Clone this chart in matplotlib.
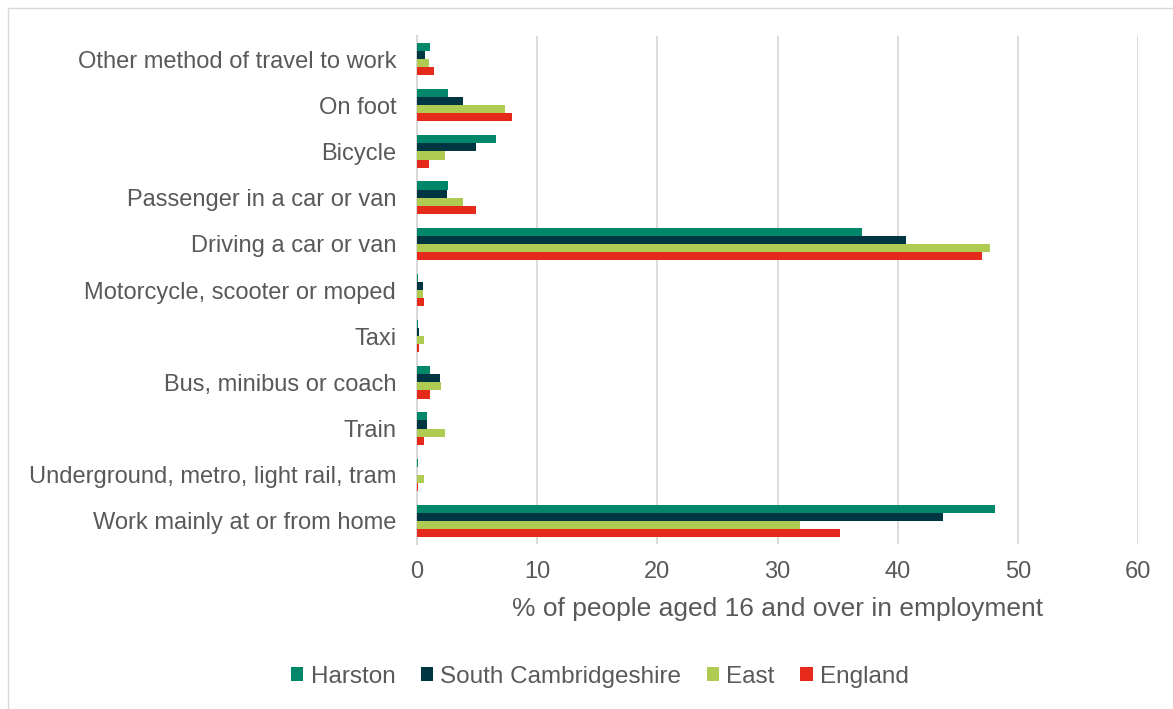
import matplotlib.pyplot as plt
import numpy as np
from matplotlib.patches import Rectangle

plt.rcParams['font.family'] = ['Liberation Sans', 'DejaVu Sans']

categories = [
    "Other method of travel to work",
    "On foot",
    "Bicycle",
    "Passenger in a car or van",
    "Driving a car or van",
    "Motorcycle, scooter or moped",
    "Taxi",
    "Bus, minibus or coach",
    "Train",
    "Underground, metro, light rail, tram",
    "Work mainly at or from home",
]

harston = [1.1, 2.6, 6.6, 2.6, 37.0, 0.1, 0.1, 1.1, 0.8, 0.1, 48.1]
south_cambs = [0.7, 3.8, 4.9, 2.5, 40.7, 0.5, 0.2, 1.9, 0.8, 0.0, 43.8]
east = [1.0, 7.3, 2.3, 3.8, 47.7, 0.5, 0.6, 2.0, 2.3, 0.6, 31.9]
england = [1.4, 7.9, 1.0, 4.9, 47.0, 0.6, 0.2, 1.1, 0.6, 0.05, 35.2]

series = [
    ("Harston", harston, "#00876a"),
    ("South Cambridgeshire", south_cambs, "#003641"),
    ("East", east, "#b0cb52"),
    ("England", england, "#e5291a"),
]

text_col = "#595959"
grid_col = "#d9d9d9"

fig = plt.figure(figsize=(11.73, 7.09), dpi=100)
ax = fig.add_axes([417 / 1173, 1 - 544 / 709, (1138 - 417) / 1173, (544 - 36) / 709])

y = np.arange(len(categories))
bar_h = 0.175
for i, (name, vals, col) in enumerate(series):
    offs = (i - 1.5) * bar_h
    ax.barh(y + offs, vals, height=bar_h, color=col, label=name, zorder=3)

ax.set_ylim(len(categories) - 0.5, -0.5)
ax.set_xlim(0, 60)
ax.set_xticks(range(0, 61, 10))
ax.set_yticks(y)
ax.set_yticklabels(categories)
ax.tick_params(axis='both', length=0, colors=text_col, labelsize=17)
ax.tick_params(axis='x', pad=12)
ax.tick_params(axis='y', pad=15)
ax.grid(axis='x', color=grid_col, linewidth=1.3, zorder=0)
for s in ['top', 'right', 'bottom']:
    ax.spines[s].set_visible(False)
ax.spines['left'].set_color(grid_col)
ax.spines['left'].set_linewidth(1.5)
ax.set_xlabel("% of people aged 16 and over in employment", color=text_col,
              fontsize=19, labelpad=10)

fig.legend(loc='center', bbox_to_anchor=(600 / 1173, 1 - 677 / 709), ncol=4,
           frameon=False, fontsize=17.5, handlelength=0.5, handleheight=0.5,
           handletextpad=0.3, columnspacing=1.05, labelcolor=text_col)

# outer chart border
fig.patches.append(Rectangle((8 / 1173, -0.01), 1.02, 1 - 8 / 709 + 0.01,
                             transform=fig.transFigure, fill=False,
                             edgecolor=grid_col, linewidth=1))

fig.savefig("out.png", dpi=100)
